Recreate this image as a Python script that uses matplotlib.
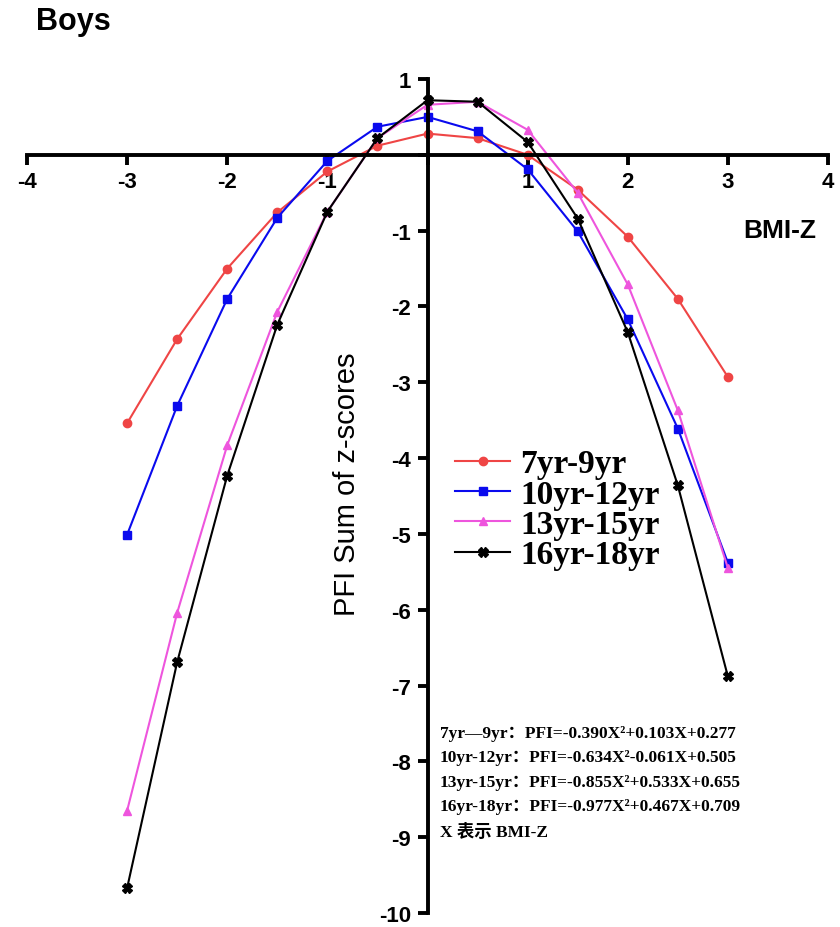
import matplotlib.pyplot as plt
import numpy as np

bmi_z = [-3, -2.5, -2, -1.5, -1, -0.5, 0, 0.5, 1, 1.5, 2, 2.5, 3]

pfi_7_9   = [-3.54, -2.43, -1.50, -0.76, -0.22, 0.12, 0.28, 0.22, 0.00, -0.46, -1.08, -1.90, -2.93]
pfi_10_12 = [-5.01, -3.31, -1.90, -0.83, -0.08, 0.37, 0.50, 0.31, -0.19, -1.01, -2.17, -3.61, -5.38]
pfi_13_15 = [-8.65, -6.04, -3.83, -2.07, -0.75, 0.22, 0.66, 0.70, 0.33, -0.50, -1.71, -3.37, -5.45]
pfi_16_18 = [-9.67, -6.69, -4.23, -2.24, -0.75, 0.22, 0.72, 0.70, 0.17, -0.84, -2.34, -4.36, -6.88]

labels = ['7yr-9yr', '10yr-12yr', '13yr-15yr', '16yr-18yr']
equations = [
    '7yr—9yr：PFI=-0.390X²+0.103X+0.277',
    '10yr-12yr：PFI=-0.634X²-0.061X+0.505',
    '13yr-15yr：PFI=-0.855X²+0.533X+0.655',
    '16yr-18yr：PFI=-0.977X²+0.467X+0.709',
    'X 表示 BMI-Z',
]

fig = plt.figure(figsize=(8.4, 9.28), dpi=100)
top_px, bot_px = 80, 914
ax = fig.add_axes([27/840, 1 - bot_px/928, (828 - 27)/840, (bot_px - top_px)/928])

# series: (data, color, marker, markersize)
styles = [
    (pfi_7_9,   '#ef4545', 'o', 6),
    (pfi_10_12, '#0a0aee', 's', 6),
    (pfi_13_15, '#ee55dd', '^', 6),
    (pfi_16_18, '#000000', 'X', 7),
]
for (vals, col, mk, ms), lab in zip(styles, labels):
    ax.plot(bmi_z, vals, color=col, marker=mk, markersize=ms, lw=1.5,
            label=lab, clip_on=False)

ax.set_xlim(-4, 4)
ax.set_ylim(-10, 1)

for side in ['top', 'right']:
    ax.spines[side].set_visible(False)
ax.spines['left'].set_position(('data', 0))
ax.spines['bottom'].set_position(('data', 0))
ax.spines['left'].set_linewidth(2.8)
ax.spines['bottom'].set_linewidth(2.8)

xt = np.arange(-4, 5)
yt = np.arange(-10, 2)
ax.set_xticks(xt)
ax.set_xticklabels(['' if v == 0 else str(v) for v in xt])
ax.set_yticks(yt)
ax.set_yticklabels(['' if v == 0 else str(v) for v in yt])
ax.tick_params(axis='both', direction='out', length=7, width=2.8, pad=5)
for t in ax.get_xticklabels() + ax.get_yticklabels():
    t.set_fontfamily('Liberation Sans')
    t.set_fontweight('bold')
    t.set_fontsize(16)

ax.text(3.88, -0.99, 'BMI-Z', fontfamily='Liberation Sans', fontweight='bold',
        fontsize=19, ha='right', va='center')
ax.text(-0.8, -4.33, 'PFI Sum of z-scores', fontfamily='Liberation Sans',
        fontsize=21, rotation=90, ha='center', va='center')
fig.text(36/840, 1 - 22/928, 'Boys', fontfamily='Liberation Sans',
         fontweight='bold', fontsize=22, ha='left', va='center')

leg = ax.legend(loc='upper left', bbox_to_anchor=(0.518, 1 - (436 - top_px)/(bot_px - top_px)),
                frameon=False, handlelength=1.65, handletextpad=0.3,
                labelspacing=-0.02, borderaxespad=0,
                prop={'family': 'Liberation Serif', 'weight': 'bold', 'size': 24})

for i, eq in enumerate(equations):
    ax.text(0.12, -7.62 - i * 0.325, eq, fontfamily=['Liberation Serif', 'Noto Sans CJK SC'],
            fontweight='bold', fontsize=12.5, ha='left', va='center')

fig.savefig('out.png', dpi=100)
